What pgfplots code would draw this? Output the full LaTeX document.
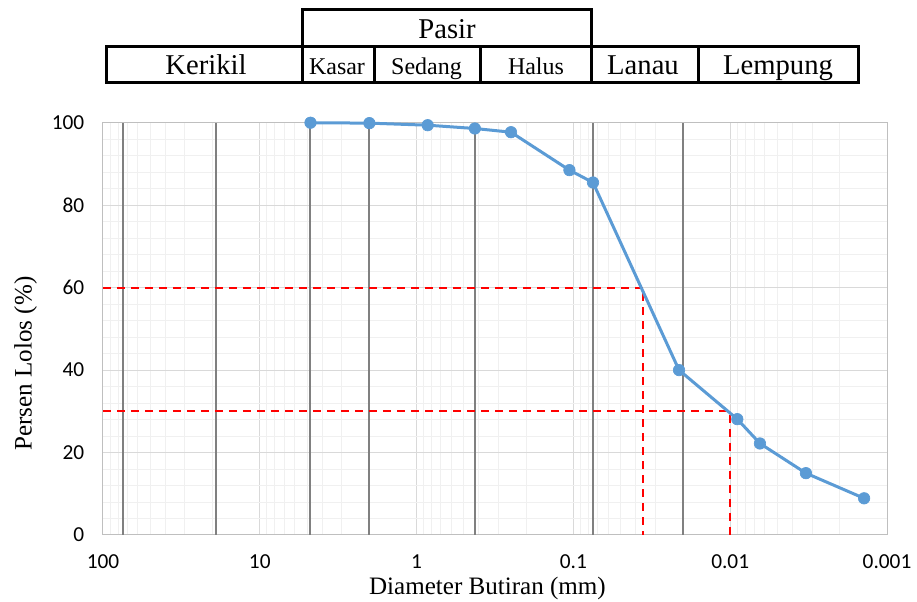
\documentclass[border=0pt]{standalone}
\usepackage{fontspec}
\setmainfont{Liberation Serif}
\newfontfamily\carlito{Carlito}
\usepackage{pgfplots}
\pgfplotsset{compat=1.18}
\definecolor{blueline}{HTML}{5B9BD5}
\definecolor{darkline}{HTML}{808080}
\begin{document}
\begin{tikzpicture}
\begin{axis}[
  name=ax, at={(0,0)}, anchor=south west,
  scale only axis, width=588pt, height=309.2pt,
  xmode=log, x dir=reverse, xmin=0.001, xmax=100, ymin=0, ymax=100,
  xtick={100,10,1,0.1,0.01,0.001},
  xticklabels={100,10,1,0.1,0.01,0.001},
  minor xtick={0.002,0.003,0.004,0.005,0.006,0.007,0.008,0.009,
               0.02,0.03,0.04,0.05,0.06,0.07,0.08,0.09,
               0.2,0.3,0.4,0.5,0.6,0.7,0.8,0.9,
               2,3,4,5,6,7,8,9,
               20,30,40,50,60,70,80,90},
  ytick={0,20,40,60,80,100}, minor y tick num=4,
  grid=both,
  major grid style={draw=black!15, line width=0.75pt},
  minor grid style={draw=black!6, line width=0.75pt},
  major tick length=0pt, minor tick length=0pt,
  axis line style={draw=black!25, line width=0.75pt},
  /pgf/number format/assume math mode=true,
  ticklabel style={font=\carlito\fontsize{16}{19}\selectfont},
  xticklabel style={yshift=-11.5pt},
  yticklabel style={xshift=-10.5pt},
  xlabel={Diameter Butiran (mm)},
  ylabel={Persen Lolos (\%)},
  label style={font=\fontsize{18.8}{22}\selectfont},
  xlabel style={at={(axis description cs:0.4904,-0.1445)}, anchor=base},
  ylabel style={at={(axis description cs:-0.0909,0.416)}, anchor=base},
  clip=false,
]
% boundary lines
\addplot[darkline, line width=1.5pt] coordinates {(75,0) (75,100)};
\addplot[darkline, line width=1.5pt] coordinates {(19,0) (19,100)};
\addplot[darkline, line width=1.5pt] coordinates {(4.75,0) (4.75,100)};
\addplot[darkline, line width=1.5pt] coordinates {(2,0) (2,100)};
\addplot[darkline, line width=1.5pt] coordinates {(0.425,0) (0.425,100)};
\addplot[darkline, line width=1.5pt] coordinates {(0.075,0) (0.075,100)};
\addplot[darkline, line width=1.5pt] coordinates {(0.02,0) (0.02,100)};
% D60 and D30
\addplot[red, line width=1.5pt, dash pattern=on 6pt off 4.5pt] coordinates {(100,60) (0.0358,60) (0.0358,0)};
\addplot[red, line width=1.5pt, dash pattern=on 6pt off 4.5pt] coordinates {(100,30) (0.0101,30) (0.0101,0)};
% grading curve
\addplot[blueline, line width=2.25pt, mark=*, mark size=4.3pt, mark options={solid, fill=blueline, draw=blueline, line width=0.5pt}] coordinates {
 (4.75,100) (2.0,99.9) (0.85,99.4) (0.425,98.6) (0.25,97.7) (0.106,88.5) (0.075,85.5)
 (0.0212,40.0) (0.00901,28.1) (0.00646,22.2) (0.00329,15.0) (0.0014,8.9)};
\end{axis}
\begin{scope}[shift={(-77.25pt,401.25pt)}, x=0.75pt, y=-0.75pt, line width=2.25pt, line cap=rect]
\draw (106.7,46.7) rectangle (858.3,83);
\draw (302.3,83) -- (302.3,10) -- (591.7,10) -- (591.7,83);
\draw (374,46.7) -- (374,83);
\draw (480,46.7) -- (480,83);
\draw (698.3,46.7) -- (698.3,83);
\node[anchor=base, inner sep=0pt, font=\fontsize{21.5}{25}\selectfont] at (447,39) {Pasir};
\node[anchor=base, inner sep=0pt, font=\fontsize{21.5}{25}\selectfont] at (206,75) {Kerikil};
\node[anchor=base, inner sep=0pt, font=\fontsize{18}{22}\selectfont] at (337,75) {Kasar};
\node[anchor=base, inner sep=0pt, font=\fontsize{18}{22}\selectfont] at (426.5,75) {Sedang};
\node[anchor=base, inner sep=0pt, font=\fontsize{18}{22}\selectfont] at (536,75) {Halus};
\node[anchor=base, inner sep=0pt, font=\fontsize{21.5}{25}\selectfont] at (643,75) {Lanau};
\node[anchor=base, inner sep=0pt, font=\fontsize{21.5}{25}\selectfont] at (778,75) {Lempung};
\end{scope}
\pgfresetboundingbox
\useasboundingbox (-77.25pt,-50.25pt) rectangle (610.5pt,401.25pt);
\end{tikzpicture}
\end{document}
